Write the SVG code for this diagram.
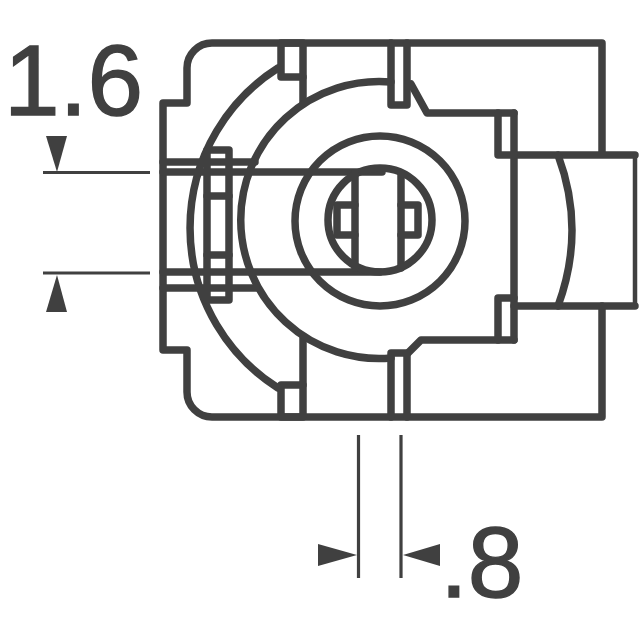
<svg xmlns="http://www.w3.org/2000/svg" width="640" height="640" viewBox="0 0 640 640">
<style>
.l{fill:none;stroke:#404040;stroke-width:7.5;stroke-linejoin:round;stroke-linecap:round}
.d{fill:none;stroke:#404040;stroke-width:3.2}
.a{fill:#404040}
text{font-family:"Liberation Sans",Arial,sans-serif;fill:#404040;stroke:#404040;stroke-width:1.4}
</style>
<rect width="640" height="640" fill="#fff"/>
<g id="body" class="l">
<path d="M281 43H212A25 25 0 0 0 187 68V103H163V350H187V392A25 25 0 0 0 212 417H602V306M602 154V43H281"/>
<path d="M514 155H635M635 306H514"/>
<path d="M635 153V308" style="stroke-width:4.500;stroke-linecap:butt"/>
<path d="M514 113V340"/>
<path d="M411 84L427 113H514M514 340H421L408 353"/>
<path d="M514 155H498V113M514 298H498V340"/>
<path d="M303 77V104M303 338V385"/>
<path d="M558 155Q586 230 558 306"/>
</g>
<g id="tabs" class="l">
<rect x="281" y="43" width="22" height="34"/>
<rect x="281" y="385" width="22" height="32"/>
<path d="M391 80V43M407 43V80M391 80V105H407V80"/>
<path d="M391 417V353H407V417"/>
</g>
<g id="arcs" class="l">
<path d="M278 68A189.5 189.5 0 0 0 278 388"/>
<path d="M391 82A138.5 138.5 0 1 0 391 358"/>
</g>
<g id="shaft" class="l">
<path d="M163 162H255M163 288H256"/>
<path d="M163 172H382M163 272H380"/>
<rect x="207" y="150" width="22" height="150"/>
<path d="M207 196H229M207 255H229"/>
</g>
<g id="rotor" class="l">
<circle cx="380" cy="221" r="85"/>
<circle cx="380" cy="220" r="52"/>
<path d="M355 173V268M401 173V268"/>
<path d="M355 205H337V235H355M401 205H418V235H401"/>
</g>
<g id="dimensions" class="d">
<path d="M43 172.500H150M43 273H150M358.500 435V578M401 435V578"/>
</g>
<g id="arrowheads" class="a">
<path d="M46 136H67L57 172Z"/>
<path d="M46 312H67L57 275Z"/>
<path d="M318 544V566L357 555Z"/>
<path d="M440 544V566L403 555Z"/>
</g>
<text id="label-16" x="4" y="115" font-size="100">1.6</text>
<text id="label-8" x="440" y="597" font-size="100">.8</text>
</svg>
